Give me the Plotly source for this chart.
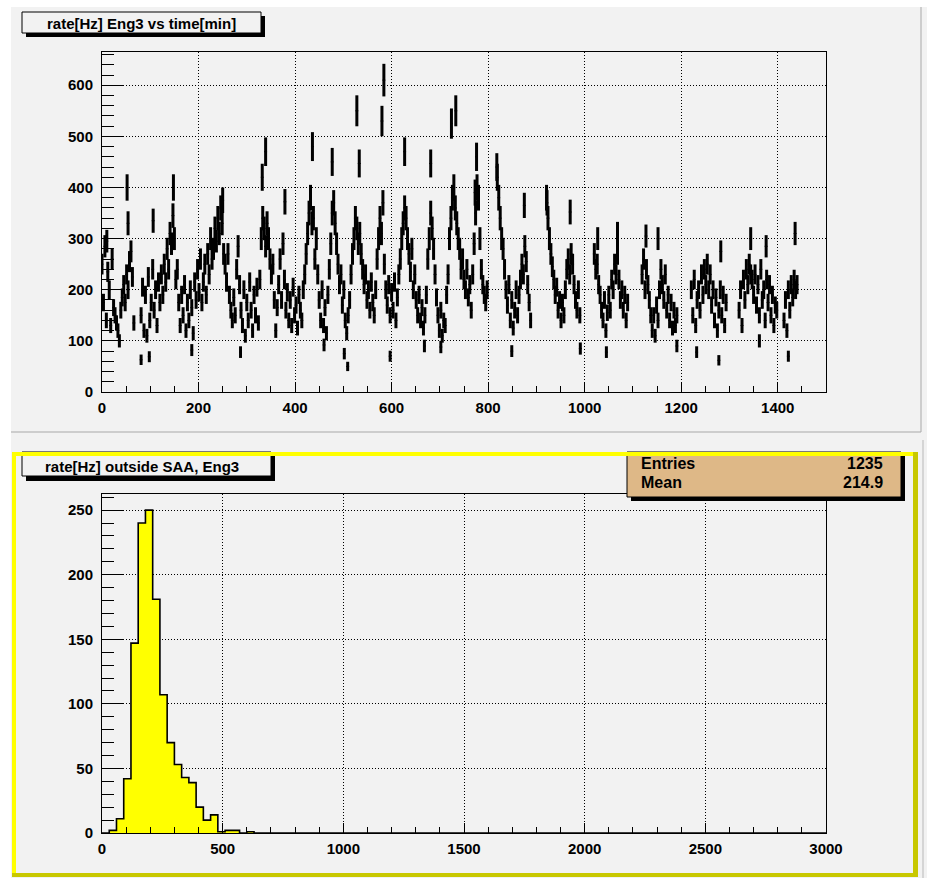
import math
import plotly.graph_objects as go

W, H = 927, 878

# ---------------- top panel: rate[Hz] vs time[min] (sampled every 3 min, None = SAA gap)
time_step_min = 3
rate_hz = [
    250, 175, 285, 140, 235, 200, 130, 260, 165, 150,
    135, 120, 100, 160, 185, 210, 175, 230, 200, 255,
    275, 225, 135, None, None, None, None, 150, 205, 120,
    190, 110, 225, 140, 175, 240, 160, 200, 130, 215,
    175, 230, 190, 250, 215, 280, 240, 310, 290, 345,
    300, 220, 240, 175, 130, 190, 150, 210, 120, 175,
    140, 200, 165, 115, 215, 180, 240, 195, 260, 175,
    215, 250, 190, 270, 230, 300, 260, 280, 320, 295,
    340, 310, 360, 330, 270, 250, 215, 270, 190, 160,
    140, 185, 150, 240, 285, 210, 160, 130, 200, 110,
    175, 140, 215, 160, 120, 190, 150, 205, 135, 220,
    300, 340, 320, 285, 330, 300, 260, 230, 250, 180,
    120, 165, 210, 260, 180, 290, 220, 160, 195, 140,
    180, 130, 205, 150, 170, 125, 190, 160, 140, 200,
    230, 270, 310, 350, 380, 330, 340, 260, 300, 230,
    180, 140, 200, 130, 165, 115, 190, 240, 290, 350,
    370, 330, 290, 250, 210, 230, 170, 200, 140, 115,
    150, 180, 230, 270, 300, 340, 320, 290, 310, 270,
    240, 210, 230, 180, 200, 160, 215, 175, 150, 200,
    260, 300, 340, 310, 370, 250, 200, 170, 210, 150,
    195, 160, 215, 140, 185, 230, 260, 300, 330, 360,
    340, 300, 270, 235, 280, 200, 230, 180, 150, 190,
    140, 165, 125, 150, 190, 260, 300, 350, 320, 280,
    230, 185, 150, 120, 160, 110, 140, 130, 190, 230,
    300, 340, 380, 400, 360, 330, 300, 280, 240, 260,
    220, 200, 240, 185, 210, 160, 230, 290, 350, 400,
    380, 300, 240, 210, 190, 175, 200, None, None, None,
    None, None, None, 420, 380, 340, 300, 280, 240, 200,
    170, 210, 140, 180, 125, 160, 200, 150, 190, 220,
    250, 230, 285, 255, 210, 175, 140, None, None, None,
    None, None, None, None, None, None, None, 380, 340, 300,
    270, 245, 220, 190, 205, 160, 180, 140, 175, 150,
    200, 240, 260, 230, 270, 250, 210, 180, 160, 200,
    150, None, None, None, None, None, None, None, None, None,
    270, 240, 250, 210, 190, 160, 140, 180, 120, 155,
    190, 160, 220, 200, 250, 230, 270, 220, 180, 200,
    160, 190, 140, 175, None, None, None, None, None, None,
    None, None, None, 230, 260, 200, 240, 210, 180, 150,
    120, 150, 110, 170, 140, 200, 240, 210, 180, 230,
    160, 190, 140, 175, 125, 160, 130, 150, None, None,
    None, None, None, None, None, None, None, 200, 150, 220,
    130, 180, 200, 160, 230, 190, 240, 210, 250, 200,
    230, 170, 200, 140, 185, 120, 160, 200, 150, 190,
    130, 175, None, None, None, None, None, None, None, None,
    160, 200, 130, 220, 180, 240, 210, 250, 230, 220,
    190, 230, 170, 210, 150, 240, 180, 200, 140, 220,
    175, 210, 150, 190, 130, 170, 160, None, None, None,
    None, 140, 180, 120, 200, 160, 210, 185, 220, 200,
    210,
]
time_min = [i * time_step_min for i in range(len(rate_hz))]

# isolated points
extra_time_min = [10, 52, 54, 81, 98, 106, 148, 186, 250, 287, 332, 339, 379, 436, 460,
                  477, 502, 509, 528, 533, 580, 584, 597, 627, 668, 681, 702, 724, 733,
                  773, 776, 818, 849, 875, 922, 970, 991, 1027, 1045, 1068, 1127, 1152,
                  1191, 1232, 1278, 1282, 1344, 1362, 1376, 1422, 1436]
extra_rate_hz = [295, 400, 330, 63, 69, 335, 400, 82, 375, 78, 420, 470, 372, 480, 92,
                 450, 75, 50, 550, 447, 530, 610, 70, 470, 90, 447, 88, 525, 550,
                 390, 460, 440, 80, 365, 370, 352, 85, 300, 78, 310, 305, 300,
                 90, 78, 62, 275, 300, 100, 285, 70, 310]

exposure_s = 0.6  # Poisson error of a rate measured over exposure_s


def rate_err(vals):
    return [0 if v is None else math.sqrt(v * exposure_s) / exposure_s for v in vals]


# ---------------- bottom panel: histogram of rate outside SAA
hist_lo, hist_hi, hist_bw = 0, 3000, 30
hist_counts_nonzero = [0, 2, 11, 42, 147, 240, 250, 181, 107, 70, 53, 43, 39, 20, 10, 14,
                       1, 2, 2, 0, 1]
nbins = (hist_hi - hist_lo) // hist_bw
hist_counts = hist_counts_nonzero + [0] * (nbins - len(hist_counts_nonzero))
hist_edges = [hist_lo + i * hist_bw for i in range(nbins + 1)]
hist_centers = [e + hist_bw / 2 for e in hist_edges[:-1]]
stats_entries = "1235"
stats_mean = "214.9"

top_title = "rate[Hz] Eng3 vs time[min]"
bottom_title = "rate[Hz] outside SAA, Eng3"

PAD = "#f2f2f2"
FONT = "Liberation Sans, Arial, Helvetica, sans-serif"


def X(px):
    return px / W


def Y(py):
    return 1 - py / H


def rect(x0, y0, x1, y1, fill, line=None, lw=0, layer="above"):
    return dict(type="rect", xref="paper", yref="paper",
                x0=X(x0), x1=X(x1), y0=Y(y1), y1=Y(y0),
                fillcolor=fill, line=dict(color=line or fill, width=lw), layer=layer)


def hline(x0, x1, y, color, lw, layer="above"):
    return dict(type="line", xref="paper", yref="paper", x0=X(x0), x1=X(x1), y0=Y(y), y1=Y(y),
                line=dict(color=color, width=lw), layer=layer)


def vline(x, y0, y1, color, lw, layer="above"):
    return dict(type="line", xref="paper", yref="paper", x0=X(x), x1=X(x), y0=Y(y0), y1=Y(y1),
                line=dict(color=color, width=lw), layer=layer)


fig = go.Figure()

errstyle = dict(type="data", thickness=3, width=0, color="black")
for xs, ys in ((time_min, rate_hz), (extra_time_min, extra_rate_hz)):
    fig.add_trace(go.Scatter(
        x=xs, y=ys, mode="markers",
        marker=dict(size=1, color="black"),
        error_y=dict(array=rate_err(ys), **errstyle),
        error_x=dict(type="constant", value=3, thickness=1, width=0, color="black"),
        xaxis="x", yaxis="y", showlegend=False, hoverinfo="skip"))

fig.add_trace(go.Bar(
    x=hist_centers, y=hist_counts, width=hist_bw,
    marker=dict(color="#ffff00", line=dict(width=0)),
    xaxis="x2", yaxis="y2", showlegend=False, hoverinfo="skip"))
fig.add_trace(go.Scatter(
    x=hist_edges, y=hist_counts + [hist_counts[-1]], mode="lines",
    line=dict(color="black", width=1.6, shape="hv"),
    xaxis="x2", yaxis="y2", showlegend=False, hoverinfo="skip"))

tickfont = dict(family=FONT, size=15, color="black", weight="bold")
grid = dict(showgrid=True, gridcolor="black", gridwidth=1, griddash="1px,2px")
common = dict(ticks="inside", tickcolor="black", tickwidth=1, showline=True,
              linecolor="black", linewidth=1, mirror=True, zeroline=False,
              automargin=False, tickfont=tickfont, **grid)

xdom = [X(102), X(826)]
fig.update_layout(
    width=W, height=H, autosize=False,
    margin=dict(l=0, r=0, t=0, b=0, pad=0, autoexpand=False),
    paper_bgcolor=PAD, plot_bgcolor=PAD,
    showlegend=False,
    xaxis=dict(domain=xdom, range=[0, 1500], anchor="y", tick0=0, dtick=200, ticklen=10,
               minor=dict(dtick=50, ticklen=6, ticks="inside", tickcolor="black", showgrid=False),
               ticklabelstandoff=2, **common),
    yaxis=dict(domain=[Y(392), Y(52)], range=[0, 665], anchor="x", tick0=0, dtick=100, ticklen=22,
               minor=dict(dtick=20, ticklen=12, ticks="inside", tickcolor="black", showgrid=False),
               ticklabelstandoff=5, **common),
    xaxis2=dict(domain=xdom, range=[0, 3000], anchor="y2", tick0=0, dtick=500, ticklen=10,
                minor=dict(dtick=100, ticklen=6, ticks="inside", tickcolor="black", showgrid=False),
                ticklabelstandoff=2, **common),
    yaxis2=dict(domain=[Y(833), Y(494)], range=[0, 262.5], anchor="x2", tick0=0, dtick=50, ticklen=22,
                minor=dict(dtick=10, ticklen=12, ticks="inside", tickcolor="black", showgrid=False),
                ticklabelstandoff=5, **common),
    bargap=0,
)

shapes = [
    # canvas highlight
    rect(0, 0, W, 7, "white", layer="below"),
    rect(0, 0, 11, H, "white", layer="below"),
    # top pad bevel
    hline(11, 921, 432, "#a8a8a8", 1, layer="below"),
    vline(921, 7, 432, "#a8a8a8", 1, layer="below"),
    # top title box
    rect(26, 16, 265, 37, "black"),
    rect(22, 12, 261, 33, PAD, "black", 1),
    # bottom title box (clipped by pad top)
    rect(26, 455, 275, 481, "black"),
    rect(22, 452, 271, 476, PAD, "black", 1),
    # stats box
    rect(631, 455, 905, 501, "black"),
    rect(627, 452, 901, 497, "#deb887", "black", 1),
    # bottom pad yellow bevel
    rect(12, 452, 917, 456, "#ffff00"),
    rect(12, 452, 16, 877, "#ffff00"),
    rect(913, 452, 918, 877, "#c8c800"),
    rect(12, 873, 918, 877, "#c8c800"),
    vline(923, 440, 878, "#b8b8b8", 1, layer="below"),
]
fig.update_layout(shapes=shapes)

ann = [
    dict(x=X(141), y=Y(23), text="<b>%s</b>" % top_title, xanchor="center", yanchor="middle", size=15),
    dict(x=X(142), y=Y(466), text="<b>%s</b>" % bottom_title, xanchor="center", yanchor="middle", size=15),
    dict(x=X(639), y=Y(463), text="<b>Entries</b>", xanchor="left", yanchor="middle", size=16),
    dict(x=X(885), y=Y(463), text="<b>%s</b>" % stats_entries, xanchor="right", yanchor="middle", size=16),
    dict(x=X(639), y=Y(483), text="<b>Mean</b>", xanchor="left", yanchor="middle", size=16),
    dict(x=X(885), y=Y(483), text="<b>%s</b>" % stats_mean, xanchor="right", yanchor="middle", size=16),
]
for a in ann:
    sz = a.pop("size")
    a.update(xref="paper", yref="paper", showarrow=False,
             font=dict(family=FONT, size=sz, color="black"))
fig.update_layout(annotations=ann)

fig.write_html("out.html")
